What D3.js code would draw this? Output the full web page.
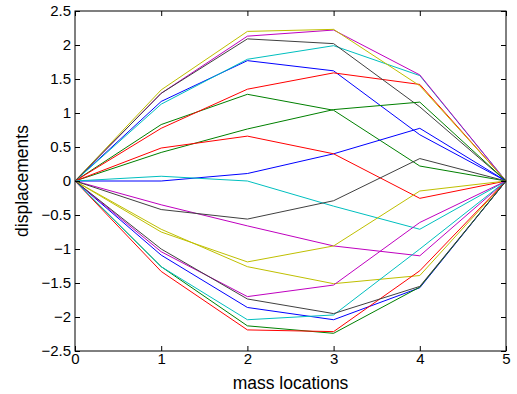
<!DOCTYPE html>
<html>
<head>
<meta charset="utf-8">
<script src="https://cdn.jsdelivr.net/npm/d3@7"></script>
<style>
  body { margin: 0; background: #fff; }
  text { font-family: "Liberation Sans", Arial, Helvetica, sans-serif; }
</style>
</head>
<body>
<div id="chart"></div>
<script>
// mass positions along the string
const massLocations = [0, 1, 2, 3, 4, 5];
const yTicks = [-2.5, -2, -1.5, -1, -0.5, 0, 0.5, 1, 1.5, 2, 2.5];

// displacement curves, grouped by the colour they get in the plot
const blueLines = [
  [0, 1.17, 1.77, 1.62, 0.68, 0],
  [0, 0.0, 0.11, 0.40, 0.775, 0],
  [0, -1.09, -1.86, -2.04, -1.57, 0]
];
const greenLines = [
  [0, 0.83, 1.275, 1.04, 0.22, 0],
  [0, 0.42, 0.765, 1.05, 1.16, 0],
  [0, -1.26, -2.13, -2.24, -1.56, 0]
];
const redLines = [
  [0, 0.775, 1.35, 1.59, 1.42, 0],
  [0, 0.485, 0.66, 0.40, -0.255, 0],
  [0, -1.33, -2.19, -2.215, -1.32, 0]
];
const cyanLines = [
  [0, 1.13, 1.79, 1.99, 1.55, 0],
  [0, 0.07, 0.0, -0.37, -0.71, 0],
  [0, -1.26, -2.04, -1.97, -1.0, 0]
];
const magentaLines = [
  [0, 1.29, 2.13, 2.22, 1.56, 0],
  [0, -0.35, -0.66, -0.955, -1.10, 0],
  [0, -1.04, -1.70, -1.53, -0.61, 0]
];
const yellowLines = [
  [0, 1.34, 2.2, 2.23, 1.40, 0],
  [0, -0.71, -1.26, -1.51, -1.39, 0],
  [0, -0.75, -1.19, -0.955, -0.147, 0]
];
const grayLines = [
  [0, 1.29, 2.09, 2.02, 1.09, 0],
  [0, -0.42, -0.56, -0.29, 0.33, 0],
  [0, -1.0, -1.735, -1.95, -1.55, 0]
];

const groups = [
  { color: "#0000ff", lines: blueLines },
  { color: "#008000", lines: greenLines },
  { color: "#ff0000", lines: redLines },
  { color: "#00bfbf", lines: cyanLines },
  { color: "#bf00bf", lines: magentaLines },
  { color: "#bfbf00", lines: yellowLines },
  { color: "#404040", lines: grayLines }
];

// matlab plots columns in colour order b g r c m y k, repeating
const series = [];
for (let i = 0; i < 3; i++) {
  groups.forEach(g => series.push({ color: g.color, values: g.lines[i] }));
}

const width = 517, height = 394;
const margin = { top: 11, right: 11, bottom: 43, left: 75 };
const w = width - margin.left - margin.right;
const h = height - margin.top - margin.bottom;

const svg = d3.select("#chart").append("svg")
  .attr("width", width)
  .attr("height", height);

const g = svg.append("g")
  .attr("transform", "translate(" + margin.left + "," + margin.top + ")");

const x = d3.scaleLinear().domain([0, 5]).range([0, w]);
const y = d3.scaleLinear().domain([-2.5, 2.5]).range([h, 0]);

const line = d3.line()
  .x((d, i) => x(massLocations[i]))
  .y(d => y(d));

g.selectAll("path.curve")
  .data(series)
  .enter().append("path")
  .attr("class", "curve")
  .attr("d", d => line(d.values))
  .attr("fill", "none")
  .attr("stroke", d => d.color)
  .attr("stroke-width", 1);

const fmt = v => (v < 0 ? "\u2212" : "") + Math.abs(v);
const tickLen = 5;

// bottom and left axes with labels, ticks pointing inward
const xAxis = g.append("g")
  .attr("transform", "translate(0," + h + ")")
  .call(d3.axisBottom(x).tickValues(massLocations).tickSize(-tickLen).tickPadding(2).tickFormat(fmt));
const yAxis = g.append("g")
  .call(d3.axisLeft(y).tickValues(yTicks).tickSize(-tickLen).tickPadding(4).tickFormat(fmt));
// top and right, ticks only
const xTop = g.append("g")
  .call(d3.axisTop(x).tickValues(massLocations).tickSize(-tickLen).tickFormat(""));
const yRight = g.append("g")
  .attr("transform", "translate(" + w + ",0)")
  .call(d3.axisRight(y).tickValues(yTicks).tickSize(-tickLen).tickFormat(""));

[xAxis, yAxis, xTop, yRight].forEach(a => {
  a.select(".domain").remove();
  a.selectAll(".tick line").attr("stroke", "#000");
  a.selectAll("text").attr("fill", "#000").style("font-size", "15px");
});

g.append("rect")
  .attr("width", w)
  .attr("height", h)
  .attr("fill", "none")
  .attr("stroke", "#000")
  .attr("stroke-width", 1);

svg.append("text")
  .attr("x", margin.left + w / 2)
  .attr("y", 389)
  .attr("text-anchor", "middle")
  .style("font-size", "17.5px")
  .text("mass locations");

svg.append("text")
  .attr("transform", "translate(28," + (margin.top + h / 2) + ") rotate(-90)")
  .attr("text-anchor", "middle")
  .style("font-size", "17.5px")
  .text("displacements");
</script>
</body>
</html>
